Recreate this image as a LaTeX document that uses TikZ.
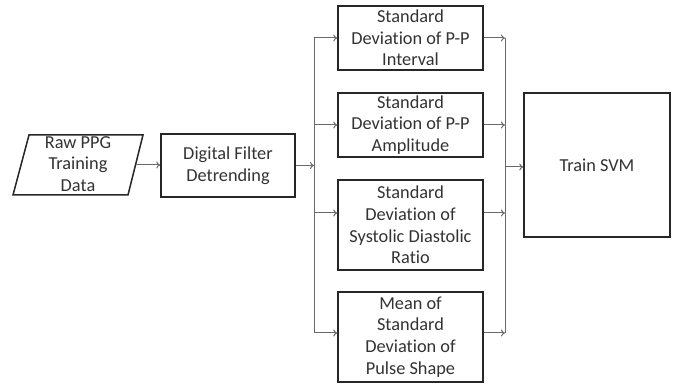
\documentclass[tikz,border=0pt]{standalone}
\usepackage{fontspec}
\setmainfont[Ligatures={NoCommon}]{Carlito}
\usetikzlibrary{arrows.meta,shapes.geometric}
\definecolor{txt}{HTML}{333333}
\definecolor{conn}{HTML}{6A6A6A}
\tikzset{
  box/.style={draw=black!85, line width=1.5pt, fill=white, text=txt, align=center,
    font=\fontsize{18.3}{21.7}\selectfont, inner sep=0pt},
  conn/.style={draw=conn, line width=1pt, -{To[length=4pt,width=7pt]}},
  busline/.style={draw=conn, line width=1pt},
}
\begin{document}
\begin{tikzpicture}[x=1pt,y=-1pt]
\useasboundingbox (0,0) rectangle (683,387);
% parallelogram
\draw[box] (29,135) -- (143,135) -- (128,195) -- (13,195) -- cycle;
\node[box, draw=none, fill=none] (raw) at (78,164) {Raw PPG\\Training\\Data};
\coordinate (rawR) at (136,165);
% digital filter
\node[box, minimum width=134pt, minimum height=63pt] (df) at (228,165.5) {Digital Filter\\Detrending};
% feature boxes
\node[box, minimum width=145pt, minimum height=64pt] (f1) at (410.5,38) {Standard\\Deviation of P-P\\Interval};
\node[box, minimum width=145pt, minimum height=64pt] (f2) at (410.5,125) {Standard\\Deviation of P-P\\Amplitude};
\node[box, minimum width=145pt, minimum height=90pt] (f3) at (410.5,225) {Standard\\Deviation of\\Systolic Diastolic\\Ratio};
\node[box, minimum width=145pt, minimum height=90pt] (f4) at (410.5,337) {Mean of\\Standard\\Deviation of\\Pulse Shape};
% SVM
\node[box, minimum width=146pt, minimum height=144pt] (svm) at (597,165) {Train SVM};
% bus coordinates
\coordinate (lt) at (314,38);
\coordinate (lb) at (314,333);
\coordinate (rt) at (505,38);
\coordinate (rb) at (505,333);
\draw[conn] (rawR) -- (df.west |- rawR);
\draw[conn] (df.east) -- (314,165.5);
\draw[busline] (lt) -- (lb);
\draw[busline] (rt) -- (rb);
\draw[conn] (lt) -- (f1.west);
\draw[conn] (314,125) -- (f2.west);
\draw[conn] (314,213) -- (f3.west |- 0,213);
\draw[conn] (lb) -- (f4.west |- lb);
\draw[conn] (f1.east) -- (rt);
\draw[conn] (f2.east) -- (505,125);
\draw[conn] (f3.east |- 0,213) -- (505,213);
\draw[conn] (f4.east |- rb) -- (rb);
\draw[conn] (505,167) -- (svm.west |- 0,167);
\end{tikzpicture}
\end{document}
